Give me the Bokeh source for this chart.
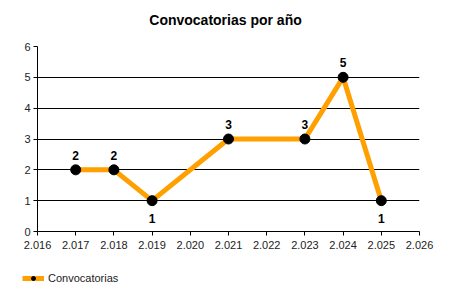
from bokeh.plotting import figure
from bokeh.models import ColumnDataSource, FixedTicker, LabelSet, Label, Legend, LegendItem, Range1d
from bokeh.layouts import column, row
from bokeh.core.properties import value
from bokeh.embed import file_html
from bokeh.resources import INLINE

years = [2017, 2018, 2019, 2021, 2023, 2024, 2025]
counts = [2, 2, 1, 3, 3, 5, 1]
x_ticks = [2016, 2017, 2018, 2019, 2020, 2021, 2022, 2023, 2024, 2025, 2026]
x_tick_labels = ["2.016", "2.017", "2.018", "2.019", "2.020", "2.021", "2.022", "2.023", "2.024", "2.025", "2.026"]
y_ticks = [0, 1, 2, 3, 4, 5, 6]
title_text = "Convocatorias por año"
series_name = "Convocatorias"

LINE_COLOR = "#FF9F00"
FONT = "Liberation Sans"


def strip(height):
    f = figure(width=450, height=height, output_backend="svg", toolbar_location=None,
               x_axis_type=None, y_axis_type=None,
               x_range=Range1d(0, 1), y_range=Range1d(0, 1),
               min_border_left=0, min_border_right=0, min_border_top=0, min_border_bottom=0)
    f.grid.visible = False
    f.outline_line_color = None
    f.border_fill_color = "white"
    f.background_fill_color = "white"
    return f


# title strip
tf = strip(36)
tf.add_layout(Label(x=225, y=17, x_units="screen", y_units="screen", text=title_text,
                    text_align="center", text_baseline="middle",
                    text_font=FONT, text_font_size="14px", text_font_style="bold",
                    text_color="black"))

lowest = min(counts)
src = ColumnDataSource(dict(
    x=years, y=counts, lbl=[str(c) for c in counts],
    off=[-22 if c == lowest else 10 for c in counts],
))

p = figure(width=450, height=226, output_backend="svg", toolbar_location=None,
           x_range=Range1d(2016, 2026), y_range=Range1d(0, 6),
           min_border_left=37, min_border_right=31, min_border_top=10, min_border_bottom=31)
p.outline_line_color = None
p.background_fill_color = "white"
p.border_fill_color = "white"

p.xaxis.ticker = FixedTicker(ticks=x_ticks)
p.xaxis.major_label_overrides = {t: l for t, l in zip(x_ticks, x_tick_labels)}
p.yaxis.ticker = FixedTicker(ticks=y_ticks)
for ax in (p.xaxis, p.yaxis):
    ax.axis_line_color = "black"
    ax.axis_line_width = 1
    ax.major_tick_line_color = "black"
    ax.major_tick_out = 4
    ax.major_tick_in = 0
    ax.minor_tick_line_color = None
    ax.major_label_text_font = FONT
    ax.major_label_text_font_size = "11px"
    ax.major_label_text_color = "#222222"
p.xaxis.major_label_standoff = 5
p.yaxis.major_label_standoff = 3

p.xgrid.grid_line_color = None
p.ygrid.ticker = FixedTicker(ticks=y_ticks)
p.ygrid.grid_line_color = "black"
p.ygrid.grid_line_width = 1
p.ygrid.grid_line_alpha = 1

ln = p.line("x", "y", source=src, line_color=LINE_COLOR, line_width=5)
mk = p.scatter("x", "y", source=src, size=10, fill_color="black", line_color="black")

labels = LabelSet(x="x", y="y", text="lbl", y_offset="off", source=src,
                  text_align="center", text_baseline="bottom",
                  text_font=value(FONT), text_font_size=value("12px"),
                  text_font_style="bold", text_color="black")
p.add_layout(labels)

# legend strip below the chart
lf = strip(38)
nan_src = ColumnDataSource(dict(x=[float("nan")], y=[float("nan")]))
lln = lf.line("x", "y", source=nan_src, line_color=LINE_COLOR, line_width=5)
lmk = lf.scatter("x", "y", source=nan_src, size=7, fill_color="black", line_color="black")
legend = Legend(items=[LegendItem(label=series_name, renderers=[lln, lmk])],
                location=(22, 16), orientation="horizontal",
                background_fill_alpha=0, border_line_color=None,
                label_text_font=FONT, label_text_font_size="11px",
                label_text_color="#222222",
                glyph_width=22, glyph_height=10, label_standoff=4, padding=0, margin=0)
lf.add_layout(legend, "center")

layout = column(row(tf), p, row(lf), spacing=0)
open("out.html", "w").write(file_html(layout, INLINE))
